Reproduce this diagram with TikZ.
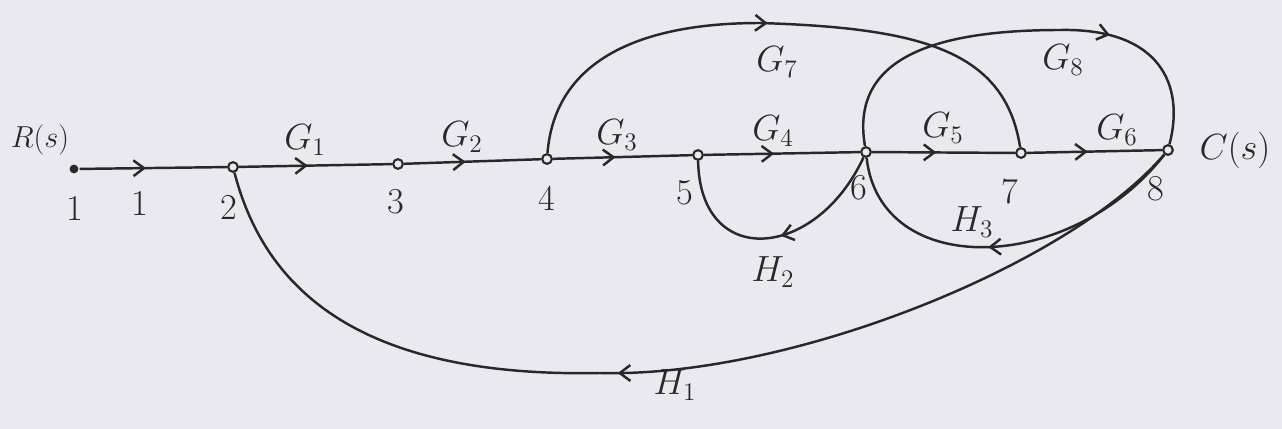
\documentclass[tikz,border=0pt]{standalone}
\usepackage{amsmath}
\usetikzlibrary{arrows.meta,decorations.markings}
\definecolor{paper}{RGB}{234,233,239}
\definecolor{ink}{RGB}{40,40,40}

\begin{document}
\begin{tikzpicture}[x=0.02cm,y=-0.02cm,line width=1.4pt,color=ink,
  pt/.style={circle,draw,fill=paper,line width=1.2pt,inner sep=0pt,minimum size=5.5pt},
  dot/.style={circle,fill,inner sep=0pt,minimum size=5pt},
  flow/.style={postaction={decorate},decoration={markings,
    mark=at position #1 with {\arrow{Straight Barb[length=6pt,width=9pt]}}}},
  flow/.default=0.45,
  lbl/.style={font=\huge}]
\path[use as bounding box,fill=paper] (0,0) rectangle (1282,429);
% nodes of the graph
\node[dot] (n1) at (74,169) {};
\node[pt] (n2) at (233,167) {};
\node[pt] (n3) at (398,164) {};
\node[pt] (n4) at (547,159) {};
\node[pt] (n5) at (698,155) {};
\node[pt] (n6) at (866,152) {};
\node[pt] (n7) at (1021,153) {};
\node[pt] (n8) at (1168,150) {};
\coordinate (c7) at (760,23);
\coordinate (c8) at (1060,30);
\coordinate (c1) at (600,373);
% forward path
\foreach \a/\b in {n1/n2,n2/n3,n3/n4,n4/n5,n5/n6,n6/n7,n7/n8}
  \draw[flow] (\a) -- (\b);
% feed forward and feedback branches
\draw[flow=0.48] (n4) .. controls (555,60) and (640,23) .. (c7)
  .. controls (920,28) and (1005,50) .. (n7);
\draw[flow=0.69] (n6) .. controls (850,60) and (930,30) .. (c8)
  .. controls (1160,28) and (1185,85) .. (n8);
\draw[flow=0.47] (n6) .. controls (816,260) and (700,270) .. (n5);
\draw[flow=0.55] (n8) .. controls (1070,275) and (880,280) .. (n6);
\draw[flow=0.56] (n8) .. controls (1070,265) and (790,378) .. (c1)
  .. controls (360,378) and (265,290) .. (n2);
% labels
\node[lbl,font=\LARGE] (tR) at (40,140) {$R(s)$};
\node[lbl] (tC) at (1235,150) {$C(s)$};
\node[lbl] (t1) at (75,208) {1};
\node[lbl] (t2) at (229,207) {2};
\node[lbl] (t3) at (396,202) {3};
\node[lbl] (t4) at (547,198) {4};
\node[lbl] (t5) at (685,193) {5};
\node[lbl] (t6) at (859,188) {6};
\node[lbl] (t7) at (1010,191) {7};
\node[lbl] (t8) at (1156,189) {8};
\node[lbl] (g0) at (140,203) {1};
\node[lbl] (g1) at (305,140) {$G_1$};
\node[lbl] (g2) at (462,137) {$G_2$};
\node[lbl] (g3) at (617,135) {$G_3$};
\node[lbl] (g4) at (773,131) {$G_4$};
\node[lbl] (g5) at (943,128) {$G_5$};
\node[lbl] (g6) at (1117,130) {$G_6$};
\node[lbl] (g7) at (777,62) {$G_7$};
\node[lbl] (g8) at (1063,60) {$G_8$};
\node[lbl] (h1) at (675,385) {$H_1$};
\node[lbl] (h2) at (773,272) {$H_2$};
\node[lbl] (h3) at (972,222) {$H_3$};
\end{tikzpicture}
\end{document}
